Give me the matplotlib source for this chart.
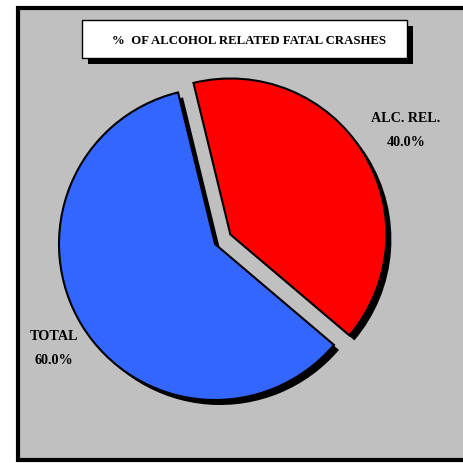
import matplotlib
matplotlib.use("Agg")
import matplotlib.pyplot as plt
from matplotlib.patches import Rectangle

title = "%  OF ALCOHOL RELATED FATAL CRASHES"
labels = ["ALC. REL.", "TOTAL"]
values = [40.0, 60.0]
colors = ["#FF0000", "#3366FF"]
explode_frac = [0.116, 0.0]

W, H = 464, 463
fig = plt.figure(figsize=(W / 100, H / 100), dpi=100)
fig.patch.set_facecolor("white")
ax = fig.add_axes([0, 0, 1, 1])
ax.set_xlim(0, W)
ax.set_ylim(0, H)
ax.set_aspect("equal")
ax.axis("off")

def Y(y):
    return H - y

# frame with grey background
ax.add_patch(Rectangle((18, Y(460)), 460, 452.5, facecolor="#C0C0C0",
                       edgecolor="black", linewidth=3, zorder=0))

# title box with shadow
ax.add_patch(Rectangle((88, Y(64)), 325, 38, facecolor="black", edgecolor="none", zorder=1))
ax.add_patch(Rectangle((82, Y(58)), 325, 38, facecolor="white", edgecolor="black",
                       linewidth=1, zorder=2))
ax.text(249, Y(41), title, ha="center", va="center", fontsize=9.2,
        fontweight="bold", family="Liberation Serif", zorder=3)

cx, cy, r = 215, Y(244), 156
start = -40.3
explode = [e * r for e in explode_frac]  # pie's explode is in data units
# shadow
ax.pie(values, explode=explode, colors=["black", "black"], startangle=start,
       counterclock=True, center=(cx + 5, cy - 5), radius=r, frame=True,
       wedgeprops=dict(linewidth=0))
# main pie
ax.pie(values, explode=explode, colors=colors, startangle=start,
       counterclock=True, center=(cx, cy), radius=r, frame=True,
       wedgeprops=dict(edgecolor="black", linewidth=1.5))
ax.set_xlim(0, W)
ax.set_ylim(0, H)
ax.axis("off")

lab_pos = [(406, 118), (54, 337)]
for lab, v, (x, y) in zip(labels, values, lab_pos):
    ax.text(x, Y(y), lab, ha="center", va="center", fontsize=10.2,
            fontweight="bold", family="Liberation Serif")
    ax.text(x, Y(y + 24), f"{v:.1f}%", ha="center", va="center", fontsize=10.2,
            fontweight="bold", family="Liberation Serif")

fig.savefig("out.png", dpi=100, facecolor="white")
